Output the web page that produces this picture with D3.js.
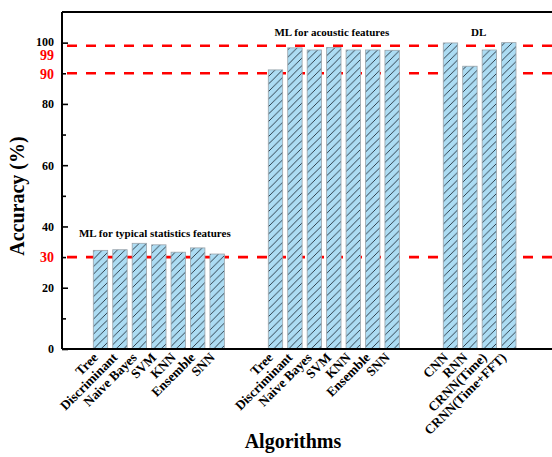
<!DOCTYPE html>
<html>
<head>
<meta charset="utf-8">
<script src="https://cdn.jsdelivr.net/npm/d3@7"></script>
<style>
  html, body { margin: 0; padding: 0; background: #fff; }
  svg { display: block; font-family: "Liberation Serif", "Times New Roman", serif; }
</style>
</head>
<body>
<svg id="chart" width="552" height="457"></svg>
<script>
// Classification accuracy per algorithm, grouped by feature family
const groupTitles = ["ML for typical statistics features", "ML for acoustic features", "DL"];
const statsAlgorithms = ["Tree", "Discriminant", "Naive Bayes", "SVM", "KNN", "Ensemble", "SNN"];
const statsAccuracy = [32.2, 32.4, 34.5, 34.0, 31.6, 33.0, 31.0];
const acousticAlgorithms = ["Tree", "Discriminant", "Naive Bayes", "SVM", "KNN", "Ensemble", "SNN"];
const acousticAccuracy = [91.1, 98.3, 97.6, 98.4, 97.6, 97.6, 97.5];
const dlAlgorithms = ["CNN", "RNN", "CRNN(Time)", "CRNN(Time+FFT)"];
const dlAccuracy = [99.9, 92.3, 97.6, 100.0];
const referenceLevels = [30, 90, 99];
const majorTicks = [0, 20, 40, 60, 80, 100];
const minorTicks = [10, 30, 50, 70, 90];

const groupStartSlot = [0, 9, 18];
const groups = [
  { names: statsAlgorithms, values: statsAccuracy },
  { names: acousticAlgorithms, values: acousticAccuracy },
  { names: dlAlgorithms, values: dlAccuracy }
];

const bars = [];
groups.forEach((g, gi) => {
  g.names.forEach((n, i) => bars.push({ name: n, value: g.values[i], slot: groupStartSlot[gi] + i, group: gi }));
});

const svg = d3.select("#chart");
const plotLeft = 62, plotTop = 12, plotBottom = 349, plotRight = 560;

const x = d3.scaleLinear().domain([0, 21]).range([100.5, 508.8]);
const y = d3.scaleLinear().domain([0, 110]).range([plotBottom, plotTop]);
const barW = 14.4;

// diagonal hatch fill
const hs = 7.5;
const defs = svg.append("defs");
const pat = defs.append("pattern")
  .attr("id", "hatch").attr("patternUnits", "userSpaceOnUse")
  .attr("width", hs).attr("height", hs);
pat.append("rect").attr("width", hs).attr("height", hs).attr("fill", "#acdcf3");
pat.append("path").attr("d", `M-1,1 L1,-1 M0,${hs} L${hs},0 M${hs - 1},${hs + 1} L${hs + 1},${hs - 1}`)
  .attr("stroke", "#22303c").attr("stroke-width", 0.9);

// reference levels (behind bars)
svg.append("g").selectAll("line").data(referenceLevels).join("line")
  .attr("x1", plotLeft).attr("x2", plotRight)
  .attr("y1", d => y(d)).attr("y2", d => y(d))
  .attr("stroke", "#ff0000").attr("stroke-width", 2.6)
  .attr("stroke-dasharray", "10,9").attr("stroke-dashoffset", -5);

// bars
svg.append("g").selectAll("rect").data(bars).join("rect")
  .attr("x", d => x(d.slot) - barW / 2)
  .attr("y", d => y(d.value))
  .attr("width", barW)
  .attr("height", d => y(0) - y(d.value))
  .attr("fill", "url(#hatch)")
  .attr("stroke", "#9aa3aa").attr("stroke-width", 0.8);

// frame: top and bottom edges
svg.append("line").attr("x1", plotLeft).attr("x2", plotRight).attr("y1", plotTop).attr("y2", plotTop)
  .attr("stroke", "#000").attr("stroke-width", 2);
svg.append("line").attr("x1", plotLeft).attr("x2", plotRight).attr("y1", plotBottom).attr("y2", plotBottom)
  .attr("stroke", "#000").attr("stroke-width", 2);

// y axis with inward ticks
const yAxis = svg.append("g").attr("transform", `translate(${plotLeft},0)`)
  .call(d3.axisLeft(y).tickValues(majorTicks).tickSize(-6).tickPadding(8).tickFormat(d3.format("d")));
yAxis.select(".domain").attr("stroke-width", 2).attr("d", `M0,${plotTop}V${plotBottom}`);
yAxis.selectAll(".tick line").attr("stroke-width", 1.6);
yAxis.selectAll("text").attr("font-size", 12).attr("font-weight", "bold")
  .attr("font-family", "Liberation Serif").attr("fill", "#000");
yAxis.selectAll(".tick text").filter(d => d === 100).attr("dy", "0.2em");

const yMinor = svg.append("g").attr("transform", `translate(${plotLeft},0)`)
  .call(d3.axisLeft(y).tickValues(minorTicks).tickSize(-4).tickFormat(""));
yMinor.select(".domain").remove();
yMinor.selectAll(".tick line").attr("stroke-width", 1.6);

// red labels for the reference levels
const refOffset = { 30: 0, 90: 1, 99: 9 };
svg.append("g").selectAll("text").data(referenceLevels).join("text")
  .attr("x", plotLeft - 8).attr("y", d => y(d) + refOffset[d])
  .attr("dy", "0.35em").attr("text-anchor", "end")
  .attr("font-size", 14).attr("font-weight", "bold").attr("fill", "#ff0000")
  .text(d => d);

// rotated category labels
svg.append("g").selectAll("text").data(bars).join("text")
  .attr("transform", d => `translate(${x(d.slot) - 5},${plotBottom + 6}) rotate(-45)`)
  .attr("text-anchor", "end").attr("dy", "0.35em")
  .attr("font-size", 13.3).attr("font-weight", "bold")
  .text(d => d.name);

// group titles
const titleSpecs = [
  { slot: 3, dx: -4 },
  { slot: 12, dx: -2 },
  { slot: 19.5, dx: -1 }
];
svg.append("g").selectAll("text").data(groupTitles).join("text")
  .attr("x", (d, i) => x(titleSpecs[i].slot) + titleSpecs[i].dx)
  .attr("y", (d, i) => i === 0 ? 237 : 36)
  .attr("text-anchor", "middle")
  .attr("font-size", 11).attr("font-weight", "bold")
  .text(d => d);

// axis titles
svg.append("text")
  .attr("transform", `translate(24,196) rotate(-90)`)
  .attr("text-anchor", "middle")
  .attr("font-size", 20).attr("font-weight", "bold")
  .text("Accuracy (%)");
svg.append("text")
  .attr("x", 293).attr("y", 448)
  .attr("text-anchor", "middle")
  .attr("font-size", 20).attr("font-weight", "bold")
  .text("Algorithms");
</script>
</body>
</html>
